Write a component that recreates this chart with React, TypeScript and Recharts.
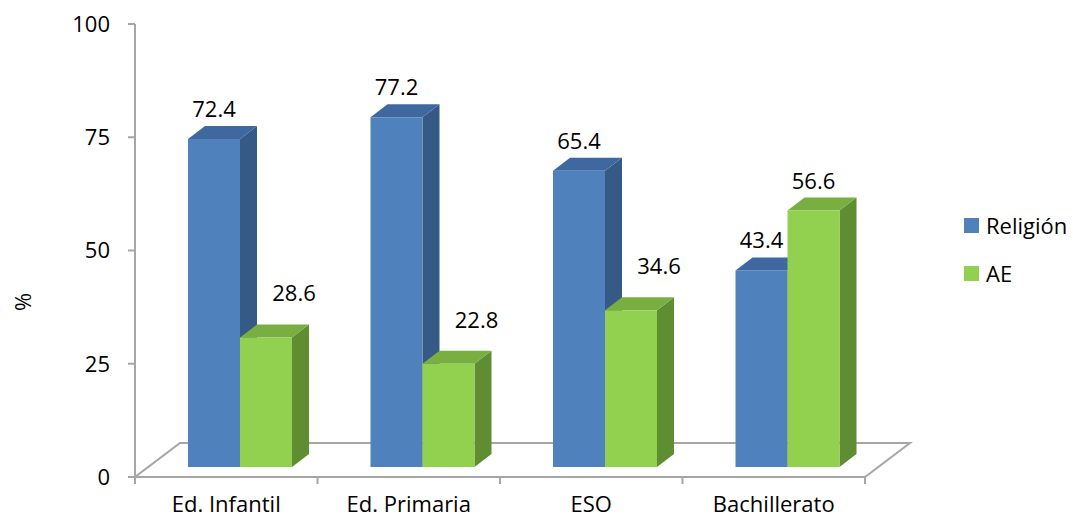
import React from 'react';
import { BarChart, Bar, XAxis, YAxis, Legend, LabelList, Customized } from 'recharts';

// ---- data ----
const categories = ['Ed. Infantil', 'Ed. Primaria', 'ESO', 'Bachillerato'];
const religionValues = [72.4, 77.2, 65.4, 43.4];
const aeValues = [28.6, 22.8, 34.6, 56.6];
const seriesNames = ['Religión', 'AE'];
const yTicks = [0, 25, 50, 75, 100];
const yAxisTitle = '%';

const data = categories.map((name, i) => ({
  name,
  religion: religionValues[i],
  ae: aeValues[i],
}));

// ---- layout ----
const W = 1073;
const H = 519;
const X_AXIS_H = 30;
const MARGIN = { top: 24, right: 208, bottom: 12, left: 0 };
const Y_AXIS_W = 135;
const PLOT_LEFT = MARGIN.left + Y_AXIS_W;
const PLOT_RIGHT = W - MARGIN.right;
const PLOT_BOTTOM = H - MARGIN.bottom - X_AXIS_H;

// perspective of the floor
const FLOOR_DX = 45;
const FLOOR_DY = -34;
// bars stand a little behind the floor's front edge
const BAR_SHIFT_X = 14;
const BAR_SHIFT_Y = -10;
// extrusion of each bar
const DEPTH_X = 17;
const DEPTH_Y = -13;

const FONT = '"Open Sans", "DejaVu Sans", sans-serif';
const FONT_SIZE = 22;
const AXIS_GRAY = '#A6A6A6';

const BLUE = { front: '#4F81BD', top: '#3F68A1', side: '#365A86' };
const GREEN = { front: '#92D050', top: '#79AE40', side: '#5F8D31' };

type Faces = { front: string; top: string; side: string };

const make3DBar = (c: Faces) => (props: any) => {
  const { x, y, width, height } = props;
  if (x == null || y == null || !width || height == null) return <g />;
  const fx = x + BAR_SHIFT_X;
  const fy = y + BAR_SHIFT_Y;
  const w = width;
  const h = height;
  const top = `${fx},${fy} ${fx + w},${fy} ${fx + w + DEPTH_X},${fy + DEPTH_Y} ${fx + DEPTH_X},${fy + DEPTH_Y}`;
  const side = `${fx + w},${fy} ${fx + w + DEPTH_X},${fy + DEPTH_Y} ${fx + w + DEPTH_X},${fy + DEPTH_Y + h} ${fx + w},${fy + h}`;
  return (
    <g>
      <polygon points={side} fill={c.side} />
      <polygon points={top} fill={c.top} />
      <rect x={fx} y={fy} width={w} height={h} fill={c.front} />
    </g>
  );
};

// value labels sit above each bar; a shorter AE bar next to a taller
// Religión bar gets its label nudged to the right and higher
const makeLabel = (series: 'religion' | 'ae') => (props: any) => {
  const { x, y, width, value, index } = props;
  if (x == null || y == null) return null;
  let cx = x + BAR_SHIFT_X + width / 2;
  let base = y + BAR_SHIFT_Y - 22;
  if (series === 'ae' && index != null && aeValues[index] < religionValues[index]) {
    cx += 28;
    base = y + BAR_SHIFT_Y - 36;
  }
  return (
    <text x={cx} y={base} textAnchor="middle" fontSize={FONT_SIZE} fontFamily={FONT} fill="#000">
      {value}
    </text>
  );
};

const Floor = () => {
  const n = categories.length;
  const band = (PLOT_RIGHT - PLOT_LEFT) / n;
  const pts = `${PLOT_LEFT},${PLOT_BOTTOM} ${PLOT_RIGHT},${PLOT_BOTTOM} ${PLOT_RIGHT + FLOOR_DX},${PLOT_BOTTOM + FLOOR_DY} ${PLOT_LEFT + FLOOR_DX},${PLOT_BOTTOM + FLOOR_DY}`;
  return (
    <g>
      <polygon points={pts} fill="none" stroke={AXIS_GRAY} strokeWidth={2} strokeLinejoin="miter" />
      {Array.from({ length: n + 1 }, (_, i) => (
        <line
          key={i}
          x1={PLOT_LEFT + i * band}
          x2={PLOT_LEFT + i * band}
          y1={PLOT_BOTTOM}
          y2={PLOT_BOTTOM + 7}
          stroke={AXIS_GRAY}
          strokeWidth={2}
        />
      ))}
    </g>
  );
};

const AxisTitle = () => (
  <text
    x={22}
    y={302}
    transform="rotate(-90 22 302)"
    textAnchor="middle"
    dominantBaseline="central"
    fontSize={FONT_SIZE}
    fontFamily={FONT}
    fill="#000"
  >
    {yAxisTitle}
  </text>
);

const legendItems = [
  { label: seriesNames[0], color: BLUE.front },
  { label: seriesNames[1], color: GREEN.front },
];

const renderLegend = () => (
  <div style={{ fontFamily: FONT, fontSize: FONT_SIZE, color: '#000' }}>
    {legendItems.map((it, i) => (
      <div
        key={it.label}
        style={{ display: 'flex', alignItems: 'center', height: 24, marginBottom: i === 0 ? 24 : 0 }}
      >
        <span style={{ display: 'inline-block', width: 15, height: 15, background: it.color, marginRight: 7 }} />
        <span style={{ lineHeight: '24px' }}>{it.label}</span>
      </div>
    ))}
  </div>
);

export default function App() {
  return (
    <div style={{ position: 'absolute', left: 0, top: 0, width: W, height: H, background: '#fff' }}>
      <BarChart width={W} height={H} data={data} margin={MARGIN} barGap={0} barSize={52}>
        <Customized component={Floor} />
        <Customized component={AxisTitle} />
        <XAxis
          dataKey="name"
          height={X_AXIS_H}
          axisLine={false}
          tickLine={false}
          tickSize={8}
          tickMargin={11}
          interval={0}
          tick={{ fontSize: FONT_SIZE, fill: '#000', fontFamily: FONT }}
        />
        <YAxis
          domain={[0, 100]}
          ticks={yTicks}
          width={Y_AXIS_W}
          interval={0}
          axisLine={{ stroke: AXIS_GRAY, strokeWidth: 2 }}
          tickLine={{ stroke: AXIS_GRAY, strokeWidth: 2 }}
          tickSize={7}
          tickMargin={18}
          tick={{ fontSize: FONT_SIZE, fill: '#000', fontFamily: FONT }}
        />
        <Legend
          layout="horizontal"
          verticalAlign="middle"
          align="center"
          wrapperStyle={{ left: 964, top: 213, width: 110 }}
          content={renderLegend}
        />
        <Bar dataKey="religion" name={seriesNames[0]} fill={BLUE.front} shape={make3DBar(BLUE)} isAnimationActive={false}>
          <LabelList dataKey="religion" content={makeLabel('religion')} />
        </Bar>
        <Bar dataKey="ae" name={seriesNames[1]} fill={GREEN.front} shape={make3DBar(GREEN)} isAnimationActive={false}>
          <LabelList dataKey="ae" content={makeLabel('ae')} />
        </Bar>
      </BarChart>
    </div>
  );
}
